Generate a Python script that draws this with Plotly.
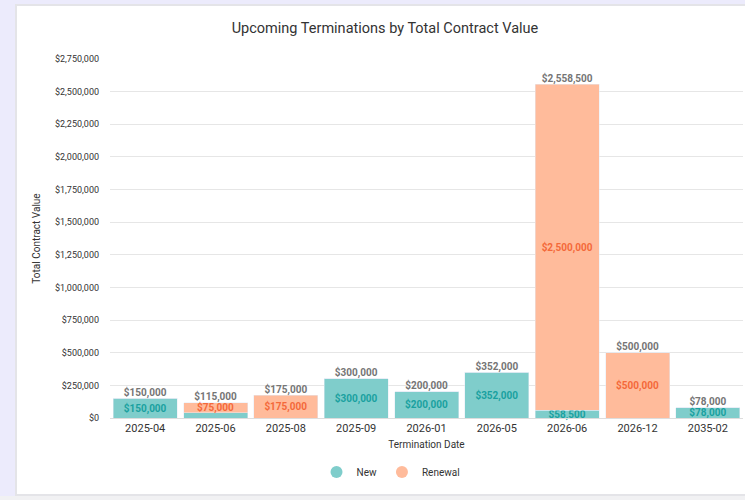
import plotly.graph_objects as go

categories = ["2025-04", "2025-06", "2025-08", "2025-09", "2026-01", "2026-05", "2026-06", "2026-12", "2035-02"]
new_values = [150000, 40000, 0, 300000, 200000, 352000, 58500, 0, 78000]
renewal_values = [0, 75000, 175000, 0, 0, 0, 2500000, 500000, 0]
new_labels = ["$150,000", "", "", "$300,000", "$200,000", "$352,000", "$58,500", "", "$78,000"]
renewal_labels = ["", "$75,000", "$175,000", "", "", "", "$2,500,000", "$500,000", ""]
totals = [n + r for n, r in zip(new_values, renewal_values)]
tick_vals = [0, 250000, 500000, 750000, 1000000, 1250000, 1500000, 1750000, 2000000, 2250000, 2500000, 2750000]
tick_text = ["$0", "$250,000", "$500,000", "$750,000", "$1,000,000", "$1,250,000", "$1,500,000",
             "$1,750,000", "$2,000,000", "$2,250,000", "$2,500,000", "$2,750,000"]

W, H = 745, 500
ml, mr, mt, mb = 110, 2, 59, 82
NEW_C, REN_C = "#7fcdcb", "#ffbb9b"

def px_x(p):
    return (p - ml) / (W - ml - mr)
def px_y(p):
    return (H - mb - p) / (H - mt - mb)

fig = go.Figure()
fig.add_trace(go.Bar(
    x=categories, y=new_values, name="New", marker_color=NEW_C, showlegend=False,
    text=new_labels, textposition="inside", insidetextanchor="middle", textangle=0,
    textfont=dict(color="#1aa1a0", size=10, family="Roboto", weight="bold"),
    constraintext="none", cliponaxis=False, hoverinfo="skip"))
fig.add_trace(go.Bar(
    x=categories, y=renewal_values, name="Renewal", marker_color=REN_C, showlegend=False,
    text=renewal_labels, textposition="inside", insidetextanchor="middle", textangle=0,
    textfont=dict(color="#f4693a", size=10, family="Roboto", weight="bold"),
    constraintext="none", cliponaxis=False, hoverinfo="skip"))
fig.add_trace(go.Scatter(
    x=categories, y=totals, mode="text",
    text=["${:,.0f}".format(t) for t in totals], textposition="top center",
    textfont=dict(color="#757575", size=10, family="Roboto", weight="bold"),
    showlegend=False, hoverinfo="skip", cliponaxis=False))
# legend entries with circle markers
for nm, col in [("New", NEW_C), ("Renewal", REN_C)]:
    fig.add_trace(go.Scatter(x=[None], y=[None], mode="markers", name=nm,
                             marker=dict(symbol="circle", size=10, color=col)))

# card background
fig.add_shape(type="rect", xref="paper", yref="paper",
              x0=px_x(0), x1=px_x(W + 5), y0=px_y(505), y1=px_y(496),
              layer="below", line_width=0, fillcolor="#f1f1f3")
fig.add_shape(type="rect", xref="paper", yref="paper",
              x0=px_x(15), x1=px_x(W + 5), y0=px_y(496), y1=px_y(4),
              layer="below", line_width=0, fillcolor="#e4e4e8")
fig.add_shape(type="rect", xref="paper", yref="paper",
              x0=px_x(17), x1=px_x(W + 5), y0=px_y(494), y1=px_y(6),
              layer="below", line_width=0, fillcolor="#ffffff")

fig.update_layout(
    width=W, height=H,
    margin=dict(l=ml, r=mr, t=mt, b=mb, autoexpand=False),
    barmode="stack", bargap=0.09,
    paper_bgcolor="#ecebfc", plot_bgcolor="rgba(0,0,0,0)",
    font=dict(family="Roboto", color="#333333"),
    title=dict(text="Upcoming Terminations by Total Contract Value", x=385 / W, xref="container",
               xanchor="center", y=1 - 28 / H, yanchor="middle",
               font=dict(size=14.5, color="#333333", family="Roboto")),
    xaxis=dict(type="category", title=dict(text="Termination Date", font=dict(size=10, color="#333333"), standoff=6),
               tickfont=dict(size=11, color="#333333"), showgrid=False, ticks="",
               showline=True, linecolor="#dddddd", linewidth=1),
    yaxis=dict(title=dict(text="Total Contract Value", font=dict(size=10, color="#333333"), standoff=12),
               range=[0, 2750000], tickvals=tick_vals, ticktext=tick_text,
               tickfont=dict(size=9, color="#333333"), gridcolor="#e6e6e6", gridwidth=1,
               zeroline=False, ticks="", ticklabelstandoff=10),
    legend=dict(orientation="h", x=px_x(391), xanchor="center", y=px_y(472), yanchor="middle",
                traceorder="normal",
                font=dict(size=10, color="#333333"), bgcolor="rgba(0,0,0,0)",
                itemsizing="constant", itemwidth=30),
    showlegend=True,
)
fig.write_html("out.html", config={"displayModeBar": False},
               post_script="document.body.style.margin='0';document.body.style.padding='0';")
